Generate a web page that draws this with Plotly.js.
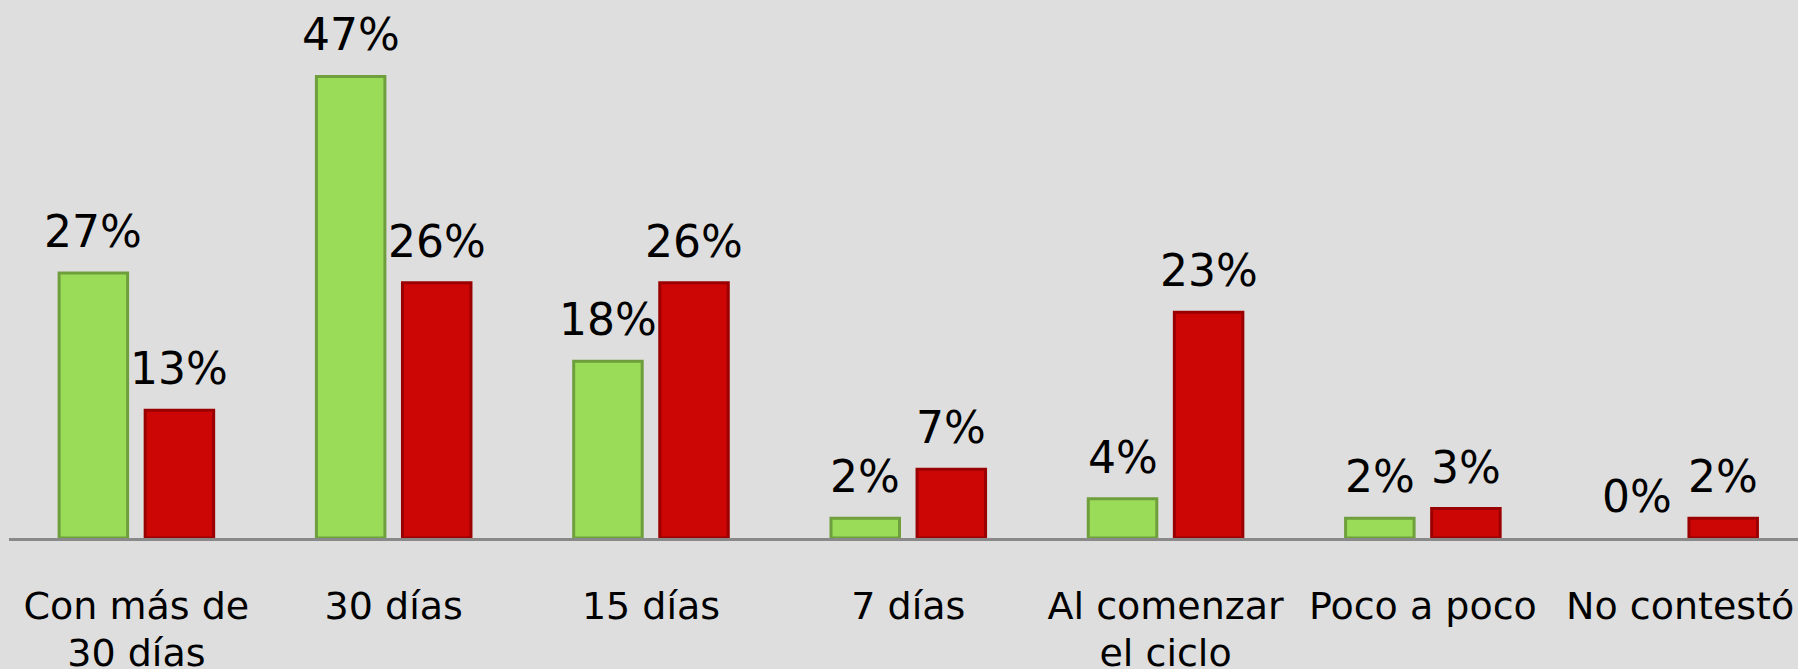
<!DOCTYPE html>
<html>
<head>
<meta charset="utf-8">
<script src="https://cdn.plot.ly/plotly-3.0.1.min.js"></script>
<style>
  html, body { margin: 0; padding: 0; background: #DEDEDE; }
  #chart { width: 1798px; height: 669px; }
</style>
</head>
<body>
<div id="chart"></div>
<script>
// ---- data ----
var categories = ["Con más de<br>30 días", "30 días", "15 días", "7 días", "Al comenzar<br>el ciclo", "Poco a poco", "No contestó"];
var seriesGreen = [27, 47, 18, 2, 4, 2, 0];
var seriesRed = [13, 26, 26, 7, 23, 3, 2];
var seriesNames = ["Serie 1", "Serie 2"];

// ---- style ----
var greenFill = "#9ADC58";
var greenEdge = "#6F9F3C";
var redFill = "#CC0505";
var redEdge = "#9A0000";
var groupOffset = 0.1673; // half distance between bar centres, in category units

function edgeWidths(values) {
  return values.map(function (v) { return v > 0 ? 3 : 0; });
}

function labels(values, sign) {
  return values.map(function (v, i) {
    return {
      x: i + sign * groupOffset,
      y: v,
      xref: "x",
      yref: "y",
      text: v + "%",
      showarrow: false,
      yanchor: "bottom",
      xanchor: "center",
      yshift: 14,
      font: { family: "DejaVu Sans", size: 44, color: "#000000" }
    };
  });
}

var traces = [
  {
    type: "bar",
    name: seriesNames[0],
    x: categories,
    y: seriesGreen,
    marker: { color: greenFill, line: { color: greenEdge, width: edgeWidths(seriesGreen) } },
    hoverinfo: "none"
  },
  {
    type: "bar",
    name: seriesNames[1],
    x: categories,
    y: seriesRed,
    marker: { color: redFill, line: { color: redEdge, width: edgeWidths(seriesRed) } },
    hoverinfo: "none"
  }
];

var layout = {
  width: 1798,
  height: 669,
  paper_bgcolor: "#DEDEDE",
  plot_bgcolor: "#DEDEDE",
  margin: { l: 9, r: 0, t: 0, b: 131, pad: 0 },
  barmode: "group",
  bargap: 0.331,
  bargroupgap: 0.204,
  showlegend: false,
  font: { family: "DejaVu Sans", color: "#000000" },
  xaxis: {
    type: "category",
    range: [-0.4951, 6.458],
    showline: true,
    linecolor: "#898989",
    linewidth: 3,
    ticks: "",
    showgrid: false,
    zeroline: false,
    tickfont: { family: "DejaVu Sans", size: 38, color: "#000000" },
    ticklabelstandoff: 32,
    fixedrange: true
  },
  yaxis: {
    range: [0, 54.79],
    showgrid: false,
    zeroline: false,
    showline: false,
    showticklabels: false,
    ticks: "",
    fixedrange: true
  },
  annotations: labels(seriesGreen, -1).concat(labels(seriesRed, 1))
};

Plotly.newPlot("chart", traces, layout, { staticPlot: true, displayModeBar: false }).then(function () {
  var tspans = document.querySelectorAll(".xtick text tspan.line");
  tspans.forEach(function (t) {
    var dy = t.getAttribute("dy");
    if (dy && dy !== "0em" && dy !== "0") {
      t.setAttribute("dy", "1.24em");
    }
  });
});
</script>
</body>
</html>
